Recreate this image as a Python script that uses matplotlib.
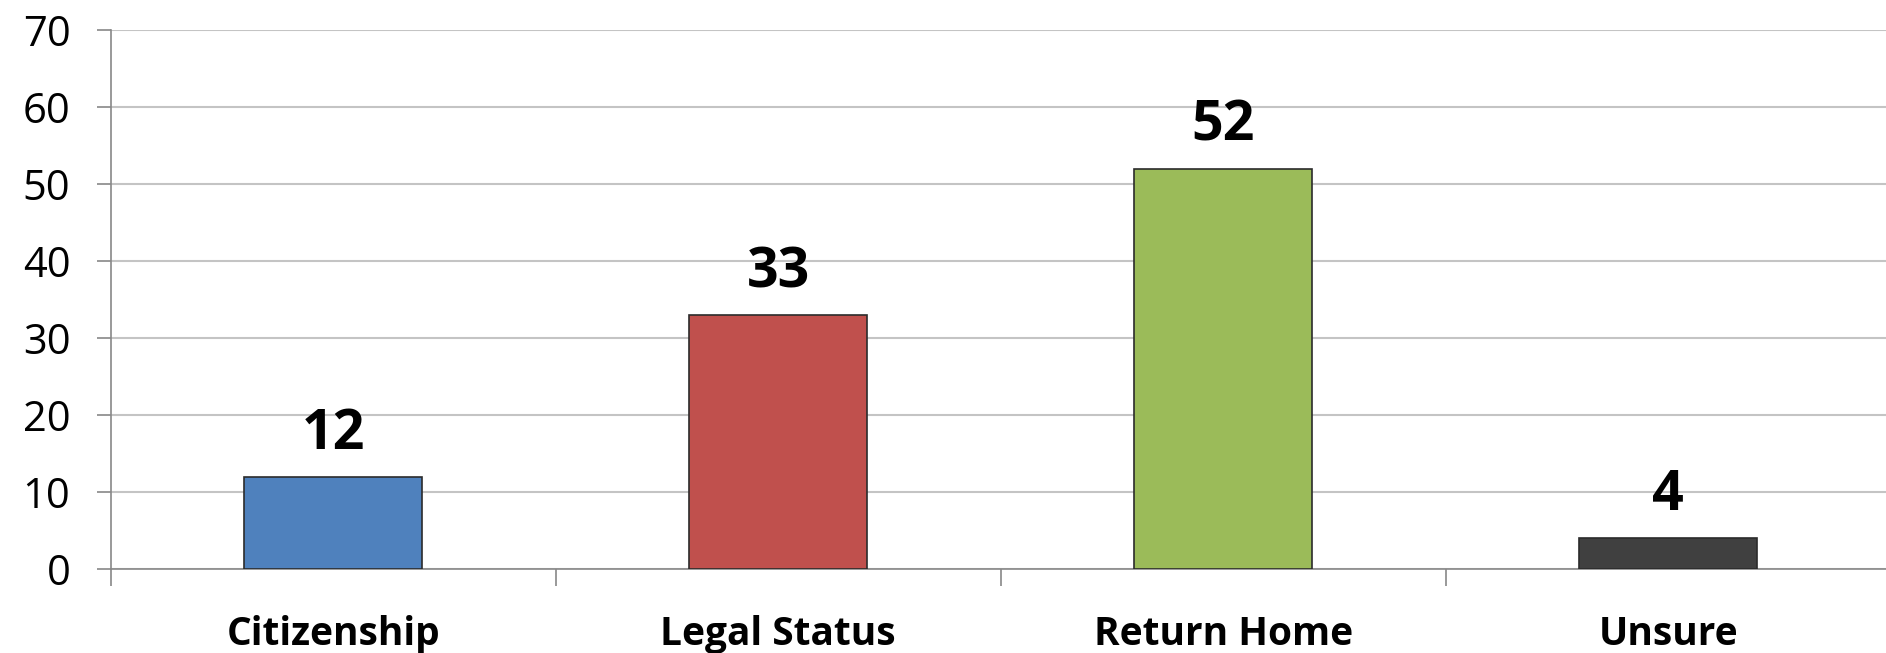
import matplotlib
matplotlib.use('Agg')
import matplotlib.pyplot as plt
import numpy as np

# data
categories = ['Citizenship', 'Legal Status', 'Return Home', 'Unsure']
values = [12, 33, 52, 4]
bar_colors = ['#4F81BD', '#C0504D', '#9BBB59', '#404040']
y_ticks = [0, 10, 20, 30, 40, 50, 60, 70]

plt.rcParams['font.family'] = ['Open Sans', 'DejaVu Sans']

fig = plt.figure(figsize=(18.86, 6.53), dpi=100)
# axes runs a little past the right edge, as in the reference
ax = fig.add_axes([110.7 / 1886, 84 / 653, 1780 / 1886, 539 / 653])

x = np.arange(len(categories))
ax.bar(x, values, width=0.4, color=bar_colors, edgecolor='#2b2b2b', linewidth=1.2, zorder=3)

for xi, v in zip(x, values):
    ax.annotate(str(v), (xi, v), xytext=(0, 20), textcoords='offset points',
                ha='center', va='baseline', fontsize=40, fontweight='bold', color='black')

ax.set_xlim(-0.5, len(categories) - 0.5)
ax.set_ylim(0, 70)
ax.set_yticks(y_ticks)
ax.tick_params(axis='y', labelsize=30, length=10, width=1.2, color='#888888', pad=19)
ax.yaxis.grid(True, color='#c4c4c4', linewidth=1.5, zorder=0)

# category labels at centres, tick marks at boundaries
ax.set_xticks(x)
ax.set_xticklabels(categories, fontsize=28, fontweight='bold')
ax.tick_params(axis='x', length=0, pad=33)
ax.set_xticks(np.arange(-0.5, len(categories)), minor=True)
ax.tick_params(axis='x', which='minor', length=12, width=1.2, color='#888888')

for side in ['top', 'right']:
    ax.spines[side].set_visible(False)
for side in ['left', 'bottom']:
    ax.spines[side].set_color('#888888')
    ax.spines[side].set_linewidth(1.2)

fig.savefig('out.png', dpi=100)
plt.close(fig)
